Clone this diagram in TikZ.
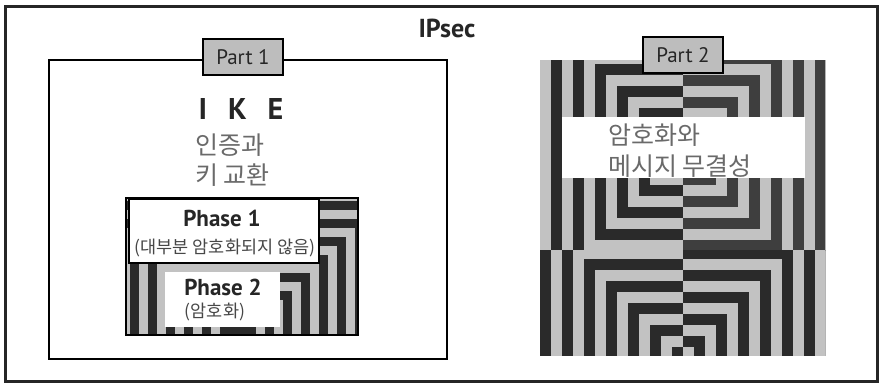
\documentclass[tikz,border=0pt]{standalone}
\usepackage{fontspec}
\setmainfont{PT Sans}
\newfontfamily\kr{Noto Sans CJK KR}
\definecolor{dk}{HTML}{2A2A2A}
\definecolor{dktwo}{HTML}{3E3E3E}
\definecolor{lt}{HTML}{C2C2C2}
\definecolor{tagfill}{HTML}{BDBDBD}
\definecolor{krgray}{HTML}{6A6A6A}
\definecolor{txt}{HTML}{262626}
\newcommand\opart[6]{%
  \foreach \k in {0,...,#4}{%
    \pgfmathsetmacro\ra{(2*#4+2-2*\k)*#3}%
    \pgfmathsetmacro\rb{\ra-#3}%
    \fill[#5] ({#1-\ra},{#2-\ra}) rectangle ({#1+\ra},{#2+\ra});
    \fill[#6] ({#1-\rb},{#2-\rb}) rectangle ({#1+\rb},{#2+\rb});
  }}
\begin{document}
\begin{tikzpicture}[x=1pt,y=-1pt,
  framebox/.style={draw=txt,line width=2.2pt,minimum width=#1,inner sep=0,anchor=north west},
  tagbox/.style={draw=black,line width=2pt,fill=tagfill,minimum width=80pt,minimum height=36pt,inner sep=0,text=txt,font=\fontsize{21}{23}\selectfont},
  krtext/.style={anchor=west,inner sep=0,text=krgray,font=\kr\fontsize{25}{27}\selectfont},
  phasetitle/.style={inner sep=0,text=txt,font=\bfseries\fontsize{23}{25}\selectfont},
  phasesub/.style={inner sep=0,text=txt!85,font=\kr\fontsize{17.5}{19}\selectfont},
  whitebox/.style={fill=white,inner sep=0,anchor=north west}]
\useasboundingbox (0,0) rectangle (880,383);
\fill[white] (0,0) rectangle (880,383);
% outer frame
\node[framebox=872pt,minimum height=375pt,line width=2.6pt] (outer) at (4,5) {};
\node[inner sep=0,text=txt,font=\bfseries\fontsize{26}{28}\selectfont] (title) at (447,28) {IPsec};
% Part 1 frame
\node[framebox=398pt,minimum height=299pt,draw=black] (p1frame) at (48,59) {};
% phase pattern
\begin{scope}
  \clip (125,197) rectangle (357,334);
  \opart{238}{345}{9}{10}{dk}{lt}
\end{scope}
\node[draw=black,line width=2pt,minimum width=232pt,minimum height=137pt,inner sep=0,anchor=north west] (phasebox) at (125,197) {};
\node[whitebox,draw=black,line width=1.6pt,minimum width=190pt,minimum height=64pt] (ph1box) at (128,198) {};
\node[whitebox,minimum width=115pt,minimum height=55pt] (ph2box) at (165,272) {};
\node[phasetitle] (ph1) at (222,218) {Phase 1};
\node[phasesub] (ph1s) at (225,248) {(대부분 암호화되지 않음)};
\node[phasetitle] (ph2) at (223,287) {Phase 2};
\node[phasesub] (ph2s) at (215,312) {(암호화)};
% IKE
\node[inner sep=0,text=txt,font=\bfseries\fontsize{30}{32}\selectfont] (ike) at (241,109) {I\hspace{21pt}K\hspace{21pt}E};
\node[krtext] (ike1) at (195,145) {인증과};
\node[krtext] (ike2) at (195,175) {키 교환};
% Part 2 pattern
\begin{scope}
  \clip (540,60) rectangle (683,250);
  \opart{683}{152}{11}{8}{dk}{lt}
\end{scope}
\begin{scope}
  \clip (683,60) rectangle (825,250);
  \opart{683}{152}{11}{8}{lt}{dktwo}
\end{scope}
\begin{scope}
  \clip (540,250) rectangle (683,355);
  \opart{683}{358}{11}{8}{lt}{dk}
\end{scope}
\begin{scope}
  \clip (683,250) rectangle (825,355);
  \opart{683}{358}{11}{8}{dk}{lt}
\end{scope}
\node[whitebox,minimum width=243pt,minimum height=61pt] (p2box) at (562,117) {};
\node[krtext] (enc1) at (608,135) {암호화와};
\node[krtext] (enc2) at (608,166) {메시지 무결성};
% tags
\node[tagbox] (part1) at (243,57) {Part 1};
\node[tagbox] (part2) at (683,55) {Part 2};
\end{tikzpicture}
\end{document}
